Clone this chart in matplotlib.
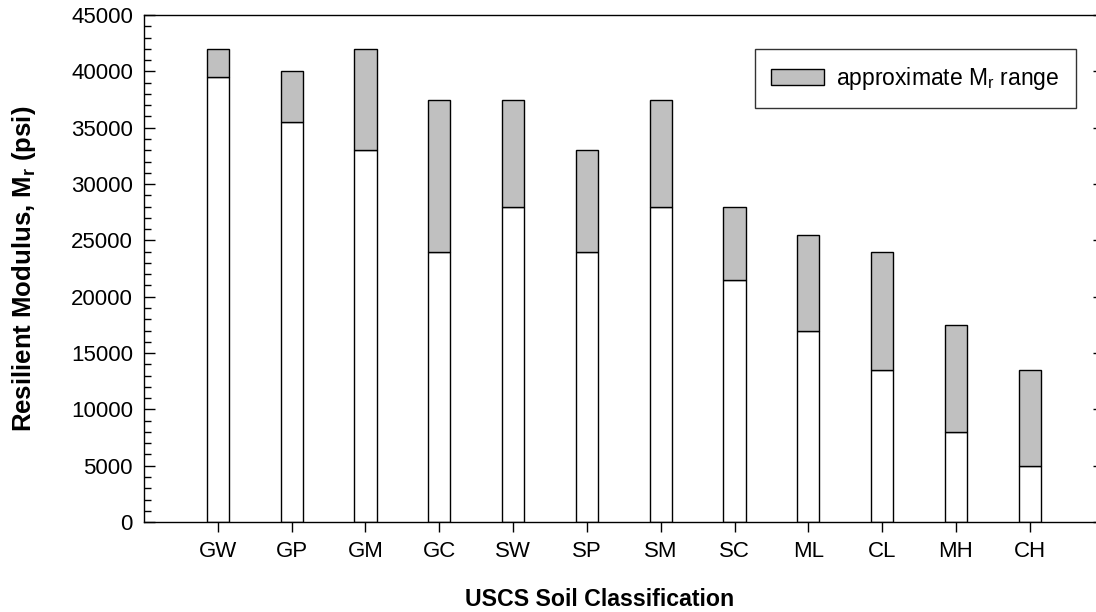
import matplotlib
matplotlib.use("Agg")
import matplotlib.pyplot as plt
from matplotlib.ticker import MultipleLocator
import numpy as np

plt.rcParams['font.family'] = ['Liberation Sans', 'DejaVu Sans']

soils = ['GW', 'GP', 'GM', 'GC', 'SW', 'SP', 'SM', 'SC', 'ML', 'CL', 'MH', 'CH']
mr_low = [39500, 35500, 33000, 24000, 28000, 24000, 28000, 21500, 17000, 13500, 8000, 5000]
mr_high = [42000, 40000, 42000, 37500, 37500, 33000, 37500, 28000, 25500, 24000, 17500, 13500]

x = np.arange(1, len(soils) + 1)
low = np.array(mr_low)
high = np.array(mr_high)

fig = plt.figure(figsize=(10.96, 6.12), dpi=100)
ax = fig.add_axes([0.1314, 0.147, 0.8755, 0.8284])

ax.bar(x, low, width=0.3, color='white', edgecolor='black', linewidth=1.0)
ax.bar(x, high - low, bottom=low, width=0.3, color='#c0c0c0', edgecolor='black',
       linewidth=1.0, label='approximate M$_\\mathregular{r}$ range')

ax.set_xlim(0, 13)
ax.set_ylim(0, 45000)
ax.set_xticks(x)
ax.set_xticklabels(soils)
ax.yaxis.set_major_locator(MultipleLocator(5000))
ax.yaxis.set_minor_locator(MultipleLocator(1000))

ax.tick_params(axis='y', which='both', direction='in', right=True, labelsize=16, pad=8)
ax.tick_params(axis='y', which='major', length=8, width=1)
ax.tick_params(axis='y', which='minor', length=5, width=1)
ax.tick_params(axis='x', direction='out', length=7, width=1, labelsize=16, pad=7)

for s in ax.spines.values():
    s.set_linewidth(1.0)

ax.set_xlabel('USCS Soil Classification', fontsize=16.7, fontweight='bold')
ax.xaxis.set_label_coords(0.475, -0.131)
ax.set_ylabel('Resilient Modulus, M$_\\mathregular{r}$ (psi)', fontsize=18.5, fontweight='bold', labelpad=24)

leg = ax.legend(loc='upper right', bbox_to_anchor=(0.971, 0.933), fontsize=16.5,
                frameon=True, fancybox=False, edgecolor='black', borderpad=0.7,
                handlelength=2.3, handleheight=0.7, handletextpad=0.55, borderaxespad=0)
leg.get_frame().set_linewidth(1.0)

fig.savefig('out.png', dpi=100)
